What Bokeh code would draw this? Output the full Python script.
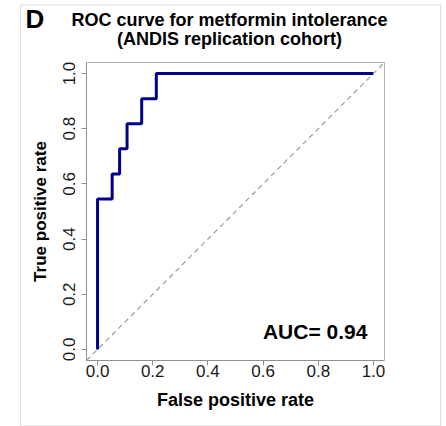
from bokeh.plotting import figure
from bokeh.models import Range1d, FixedTicker, PrintfTickFormatter, Slope, Label
from bokeh.embed import file_html
from bokeh.resources import INLINE

# ---- data ----
fpr = [0.0, 0.0, 0.053, 0.053, 0.080, 0.080, 0.107, 0.107, 0.160, 0.160, 0.213, 0.213, 1.0]
tpr = [0.0, 0.545, 0.545, 0.636, 0.636, 0.727, 0.727, 0.818, 0.818, 0.909, 0.909, 1.0, 1.0]
ticks = [0.0, 0.2, 0.4, 0.6, 0.8, 1.0]
panel_letter = "D"
title_lines = ["ROC curve for metformin intolerance", "(ANDIS replication cohort)"]
x_label = "False positive rate"
y_label = "True positive rate"
auc_text = "AUC= 0.94"

FONT = "Liberation Sans"

p = figure(frame_width=298, frame_height=298,
           min_border_left=86, min_border_right=60, min_border_top=62, min_border_bottom=66,
           x_range=Range1d(-0.04, 1.04), y_range=Range1d(-0.04, 1.04),
           output_backend="svg", toolbar_location=None, title=None)

p.background_fill_color = "white"
p.border_fill_color = "white"
p.outline_line_color = "#b4b4b4"
p.outline_line_width = 1
p.xgrid.visible = False
p.ygrid.visible = False

for ax in (p.xaxis[0], p.yaxis[0]):
    ax.ticker = FixedTicker(ticks=ticks)
    ax.formatter = PrintfTickFormatter(format="%.1f")
    ax.axis_line_color = "#909090"
    ax.major_tick_line_color = "#909090"
    ax.major_tick_out = 5
    ax.major_tick_in = 0
    ax.minor_tick_line_color = None
    ax.major_label_text_font = FONT
    ax.major_label_text_font_size = "17px"
    ax.major_label_text_color = "#1a1a1a"
    ax.axis_label_text_font = FONT
    ax.axis_label_text_font_style = "bold"
    ax.axis_label_text_color = "black"

p.xaxis[0].major_label_standoff = -1
p.yaxis[0].major_label_standoff = 6
p.yaxis[0].major_label_orientation = "vertical"
p.xaxis[0].axis_label = x_label
p.xaxis[0].axis_label_text_font_size = "18px"
p.xaxis[0].axis_label_standoff = 10
p.yaxis[0].axis_label = y_label
p.yaxis[0].axis_label_text_font_size = "17px"
p.yaxis[0].axis_label_standoff = 11

# diagonal reference
p.add_layout(Slope(gradient=1, y_intercept=0, line_color="#9a9a9a",
                   line_width=1.2, line_dash="5 4"))

# ROC curve
p.line(fpr, tpr, line_color="#00008b", line_width=3)

# texts outside the frame live in side panels so they are not clipped
p.add_layout(Label(x=0.478, y=1.1253, text=title_lines[1], text_font=FONT,
                   text_font_size="18px", text_font_style="bold", text_color="black",
                   text_align="center", text_baseline="middle"), "above")
p.add_layout(Label(x=0.478, y=1.1923, text=title_lines[0], text_font=FONT,
                   text_font_size="18px", text_font_style="bold", text_color="black",
                   text_align="center", text_baseline="middle"), "above")
p.add_layout(Label(x=-0.261, y=1.1978, text=panel_letter, text_font=FONT,
                   text_font_size="26px", text_font_style="bold", text_color="black",
                   text_align="left", text_baseline="middle"), "right")

# light panel frame around the whole figure
p.add_layout(Label(x=0.4819, y=0.4856, text=" ", text_font=FONT, text_font_size="1px",
                   text_align="center", text_baseline="middle", padding=210,
                   background_fill_color=None, border_line_color="#d9d9d9",
                   border_line_width=1), "right")

p.add_layout(Label(x=0.978, y=0.0633, text=auc_text, text_font=FONT,
                   text_font_size="21px", text_font_style="bold", text_color="black",
                   text_align="right", text_baseline="middle"))

open("out.html", "w").write(file_html(p, INLINE))
